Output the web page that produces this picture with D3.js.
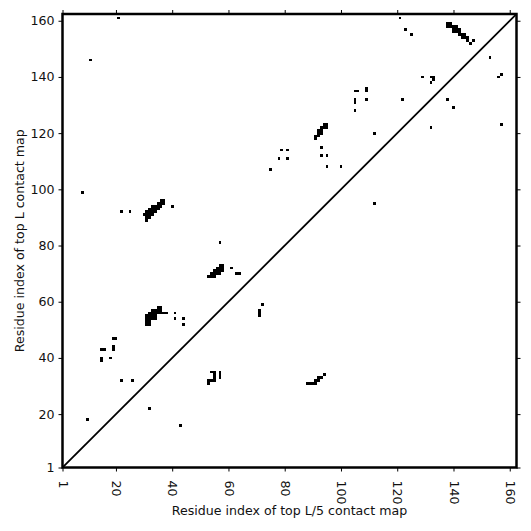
<!DOCTYPE html>
<html>
<head>
<meta charset="utf-8">
<script src="https://cdn.jsdelivr.net/npm/d3@7"></script>
<style>
  html, body { margin: 0; padding: 0; background: #fff; }
  svg { display: block; font-family: "DejaVu Sans", sans-serif; }
</style>
</head>
<body>
<div id="chart"></div>
<script>
// Axis ticks
const tickValues = [1, 20, 40, 60, 80, 100, 120, 140, 160];
const xTitle = "Residue index of top L/5 contact map";
const yTitle = "Residue index of top L contact map";
const seqMax = 162.4;

// Contact cells: [residue index on x, residue index on y]
const contactsUpper = [
  [21,161],[11,146],[121,161],[123,157],[125,155],
  [138,158],[139,158],[138,159],[139,159],
  [140,156],[141,156],[140,157],[141,157],[140,158],[141,158],
  [142,155],[142,156],[142,157],
  [143,154],[144,154],[143,155],[144,155],
  [145,153],[145,154],[146,152],[147,153],
  [153,147],[157,141],[156,140],
  [129,140],[132,140],[133,140],[133,139],[132,138],
  [105,135],[106,135],[109,135],[109,136],[105,131],[105,132],[109,132],[105,128],
  [122,132],[138,132],[140,129],[132,122],[157,123],[112,120],[112,95],
  [94,122],[95,122],[94,123],[95,123],[93,122],[92,120],[93,120],[92,121],[93,121],
  [91,118],[91,119],[92,119],
  [93,115],[93,112],[95,112],[95,108],[100,108],
  [79,114],[81,114],[78,111],[81,111],[75,107]
];
const contactsMiddle = [
  [8,99],[22,92],[25,92],[40,94],
  [36,96],[37,96],
  [35,95],[36,95],[37,95],
  [33,94],[34,94],[35,94],[36,94],
  [32,93],[33,93],[34,93],[35,93],
  [31,92],[32,92],[33,92],[34,92],
  [30,91],[31,91],[32,91],[33,91],
  [31,90],[32,90],[31,89],
  [57,81],
  [57,73],[58,73],
  [56,72],[57,72],[58,72],
  [55,71],[56,71],[57,71],[58,71],
  [54,70],[55,70],[56,70],[57,70],
  [53,69],[54,69],[55,69],
  [61,72],[63,70],[64,70],[72,59],[71,55],[71,56],[71,57]
];
const contactsLower = [
  [35,58],[36,58],
  [33,57],[34,57],[35,57],[36,57],
  [32,56],[33,56],[34,56],[35,56],[36,56],[37,56],[38,56],
  [31,55],[32,55],[33,55],[34,55],
  [31,54],[32,54],[33,54],[34,54],
  [31,53],[32,53],
  [31,52],[32,52],
  [41,56],[41,54],[44,54],[44,52],
  [19,47],[20,47],[15,43],[16,43],[19,43],[19,44],[15,39],[15,40],[18,40],
  [22,32],[26,32],[32,22],[10,18],[43,16],
  [54,35],[55,35],[55,34],[55,33],[54,32],[55,32],[53,32],[53,31],
  [57,33],[57,34],[57,35],
  [88,31],[89,31],[90,31],[91,31],[91,32],[92,32],[92,33],[93,33],[94,34]
];
const contacts = contactsUpper.concat(contactsMiddle, contactsLower);

const W = 531, H = 531;
const mLeft = 62.5, mRight = 516.5, mTop = 14, mBottom = 467.5;

const svg = d3.select("#chart").append("svg")
  .attr("width", W).attr("height", H);

const x = d3.scaleLinear().domain([1, seqMax]).range([mLeft, mRight]);
const y = d3.scaleLinear().domain([1, seqMax]).range([mBottom, mTop]);

svg.append("clipPath").attr("id", "plotclip")
  .append("rect").attr("x", mLeft).attr("y", mTop)
  .attr("width", mRight - mLeft).attr("height", mBottom - mTop);

const plot = svg.append("g").attr("clip-path", "url(#plotclip)");

plot.selectAll("rect.cell").data(contacts).enter().append("rect")
  .attr("class", "cell")
  .attr("x", d => x(d[0] - 0.5))
  .attr("y", d => y(d[1] + 0.5))
  .attr("width", d => x(d[0] + 0.5) - x(d[0] - 0.5))
  .attr("height", d => y(d[1] - 0.5) - y(d[1] + 0.5))
  .attr("fill", "#000")
  .attr("shape-rendering", "crispEdges");

plot.append("line")
  .attr("x1", x(1)).attr("y1", y(1))
  .attr("x2", x(seqMax)).attr("y2", y(seqMax))
  .attr("stroke", "#000").attr("stroke-width", 1.8);

const fs = "12.6px";

// Axes
const xAxisB = svg.append("g").attr("transform", `translate(0,${mBottom})`)
  .call(d3.axisBottom(x).tickValues(tickValues).tickSize(4).tickSizeOuter(0).tickFormat(d3.format("d")));
xAxisB.selectAll("text")
  .attr("transform", "rotate(90)")
  .attr("x", 13).attr("y", 0).attr("dy", "0.35em")
  .style("text-anchor", "start");
const yAxisL = svg.append("g").attr("transform", `translate(${mLeft},0)`)
  .call(d3.axisLeft(y).tickValues(tickValues).tickSize(4).tickSizeOuter(0).tickFormat(d3.format("d")));
yAxisL.selectAll("text").attr("x", -8);
const xAxisT = svg.append("g").attr("transform", `translate(0,${mTop})`)
  .call(d3.axisTop(x).tickValues(tickValues).tickSize(4).tickSizeOuter(0).tickFormat(""));
const yAxisR = svg.append("g").attr("transform", `translate(${mRight},0)`)
  .call(d3.axisRight(y).tickValues(tickValues).tickSize(4).tickSizeOuter(0).tickFormat(""));

svg.selectAll(".domain").remove();
svg.selectAll(".tick line").attr("stroke", "#000").attr("stroke-width", 1);
svg.selectAll(".tick text").attr("fill", "#111").style("font-size", fs)
  .style("font-family", "DejaVu Sans, sans-serif");

// Frame
svg.append("rect")
  .attr("x", mLeft).attr("y", mTop)
  .attr("width", mRight - mLeft).attr("height", mBottom - mTop)
  .attr("fill", "none").attr("stroke", "#000").attr("stroke-width", 2.5);

// Titles
svg.append("text")
  .attr("x", (mLeft + mRight) / 2).attr("y", 515)
  .attr("text-anchor", "middle")
  .style("font-size", fs).attr("fill", "#111")
  .text(xTitle);
svg.append("text")
  .attr("transform", `translate(24,${(mTop + mBottom) / 2}) rotate(-90)`)
  .attr("text-anchor", "middle")
  .style("font-size", fs).attr("fill", "#111")
  .text(yTitle);
</script>
</body>
</html>
